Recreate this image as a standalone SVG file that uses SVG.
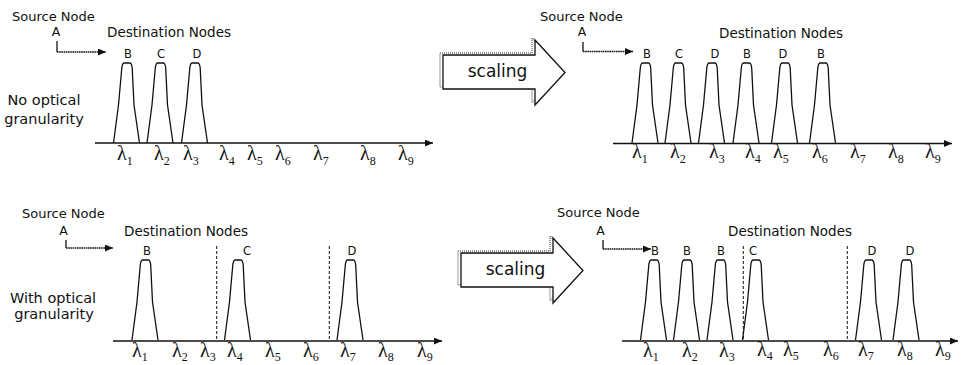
<svg xmlns="http://www.w3.org/2000/svg" width="966" height="365" viewBox="0 0 966 365">
<style>
.lbl{font-family:"DejaVu Sans","Liberation Sans",sans-serif;fill:#111}
.src{font-size:13px}
.dst{font-size:13.5px}
.side{font-size:14.5px;text-anchor:middle}
.pk{font-size:11.5px;text-anchor:middle}
.a{font-size:12.5px;text-anchor:middle}
.scl{font-size:17px;text-anchor:middle}
.lam{font-family:"Liberation Serif","DejaVu Serif",serif;font-size:20px;fill:#111}
.sub{font-size:12px}
.axis{stroke:#111;stroke-width:1.4;fill:none}
.peak{stroke:#111;stroke-width:1.3;fill:none;stroke-linejoin:round}
.larrow{stroke:#111;stroke-width:1.3;fill:none}
.ldot{stroke-dasharray:1.6 0.6}
.guide{stroke:#111;stroke-width:1;stroke-dasharray:3 2;fill:none}
.big{fill:#fff;stroke:#111;stroke-width:1.3}
.shadow{fill:none;stroke:#999;stroke-width:2;stroke-dasharray:1 1}
</style>
<defs>
<marker id="ah" markerUnits="userSpaceOnUse" markerWidth="9" markerHeight="8" refX="8" refY="3.5" orient="auto">
<path d="M0,0 L8,3.5 L0,7 z" fill="#111"/>
</marker>
<path id="peak" class="peak" d="M-13.5,80 L-8.5,42 L-5.2,5 Q-4.7,0 -2.7,0 L2.7,0 Q4.7,0 5.2,5 L7,42 L12.5,80"/>
<g id="bigarrow-shape">
<polygon class="shadow" points="440,53 532,53 532,38 562,70.5 532,103 532,87 440,87"/>
<polygon class="big" points="443,55 535,55 535,40 565,72.5 535,105 535,89 443,89"/>
</g>
</defs>

<!-- Panel top-left -->
<g id="tl-source">
<text class="lbl src" x="12" y="20.5">Source Node</text>
<text class="lbl a" x="56" y="35.5">A</text>
</g>
<g id="tl-dest">
<text class="lbl dst" x="107" y="37">Destination Nodes</text>
</g>
<g id="tl-side">
<text class="lbl side" x="44" y="105">No optical</text>
<text class="lbl side" x="44" y="124">granularity</text>
</g>
<g id="tl-peaks">
<use href="#peak" transform="translate(127,63)"/>
<use href="#peak" transform="translate(160.5,63)"/>
<use href="#peak" transform="translate(195,63)"/>
<text class="lbl pk" x="128" y="57.5">B</text>
<text class="lbl pk" x="161" y="57.5">C</text>
<text class="lbl pk" x="197" y="57.5">D</text>
</g>
<g id="tl-lambdas" class="lam">
<text x="117" y="160">λ<tspan class="sub" dy="5">1</tspan></text>
<text x="154" y="160">λ<tspan class="sub" dy="5">2</tspan></text>
<text x="183" y="160">λ<tspan class="sub" dy="5">3</tspan></text>
<text x="219" y="160">λ<tspan class="sub" dy="5">4</tspan></text>
<text x="247" y="160">λ<tspan class="sub" dy="5">5</tspan></text>
<text x="275" y="160">λ<tspan class="sub" dy="5">6</tspan></text>
<text x="313" y="160">λ<tspan class="sub" dy="5">7</tspan></text>
<text x="360" y="160">λ<tspan class="sub" dy="5">8</tspan></text>
<text x="398" y="160">λ<tspan class="sub" dy="5">9</tspan></text>
</g>

<!-- Scaling arrows -->
<g id="scaling-top">
<use href="#bigarrow-shape"/>
<text class="lbl scl" x="497.5" y="77">scaling</text>
</g>
<g id="scaling-bottom">
<use href="#bigarrow-shape" transform="translate(18,198)"/>
<text class="lbl scl" x="515.5" y="275">scaling</text>
</g>

<!-- Panel top-right -->
<g id="tr-source">
<text class="lbl src" x="540" y="20.5">Source Node</text>
<text class="lbl a" x="582" y="35.5">A</text>
</g>
<g id="tr-dest">
<text class="lbl dst" x="719" y="38">Destination Nodes</text>
</g>
<g id="tr-peaks">
<use href="#peak" transform="translate(645.5,63)"/>
<use href="#peak" transform="translate(678.5,63)"/>
<use href="#peak" transform="translate(712,63)"/>
<use href="#peak" transform="translate(746.5,63)"/>
<use href="#peak" transform="translate(785,63)"/>
<use href="#peak" transform="translate(823,63)"/>
<text class="lbl pk" x="647" y="57.5">B</text>
<text class="lbl pk" x="679" y="57.5">C</text>
<text class="lbl pk" x="715" y="57.5">D</text>
<text class="lbl pk" x="747" y="57.5">B</text>
<text class="lbl pk" x="783" y="57.5">D</text>
<text class="lbl pk" x="821" y="57.5">B</text>
</g>
<g id="tr-lambdas" class="lam">
<text x="632" y="157.5">λ<tspan class="sub" dy="5">1</tspan></text>
<text x="670" y="157.5">λ<tspan class="sub" dy="5">2</tspan></text>
<text x="709" y="157.5">λ<tspan class="sub" dy="5">3</tspan></text>
<text x="745" y="157.5">λ<tspan class="sub" dy="5">4</tspan></text>
<text x="773" y="157.5">λ<tspan class="sub" dy="5">5</tspan></text>
<text x="812" y="157.5">λ<tspan class="sub" dy="5">6</tspan></text>
<text x="850" y="157.5">λ<tspan class="sub" dy="5">7</tspan></text>
<text x="888" y="157.5">λ<tspan class="sub" dy="5">8</tspan></text>
<text x="925" y="157.5">λ<tspan class="sub" dy="5">9</tspan></text>
</g>

<!-- Panel bottom-left -->
<g id="bl-source">
<text class="lbl src" x="22" y="218">Source Node</text>
<text class="lbl a" x="63.5" y="234.5">A</text>
</g>
<g id="bl-dest">
<text class="lbl dst" x="124" y="236">Destination Nodes</text>
</g>
<g id="bl-side">
<text class="lbl side" x="53" y="303">With optical</text>
<text class="lbl side" x="54" y="319">granularity</text>
</g>
<g id="bl-peaks">
<use href="#peak" transform="translate(145.5,260)"/>
<use href="#peak" transform="translate(238,260)"/>
<use href="#peak" transform="translate(350.5,260)"/>
<text class="lbl pk" x="147" y="255">B</text>
<text class="lbl pk" x="247" y="255">C</text>
<text class="lbl pk" x="352" y="255">D</text>
</g>
<g id="bl-lambdas" class="lam">
<text x="132" y="357">λ<tspan class="sub" dy="4">1</tspan></text>
<text x="172" y="357">λ<tspan class="sub" dy="4">2</tspan></text>
<text x="200" y="357">λ<tspan class="sub" dy="4">3</tspan></text>
<text x="227" y="357">λ<tspan class="sub" dy="4">4</tspan></text>
<text x="265" y="357">λ<tspan class="sub" dy="4">5</tspan></text>
<text x="303" y="357">λ<tspan class="sub" dy="4">6</tspan></text>
<text x="340" y="357">λ<tspan class="sub" dy="4">7</tspan></text>
<text x="378" y="357">λ<tspan class="sub" dy="4">8</tspan></text>
<text x="417" y="357">λ<tspan class="sub" dy="4">9</tspan></text>
</g>

<!-- Panel bottom-right -->
<g id="br-source">
<text class="lbl src" x="557" y="217">Source Node</text>
<text class="lbl a" x="600.5" y="234.5">A</text>
</g>
<g id="br-dest">
<text class="lbl dst" x="728" y="236">Destination Nodes</text>
</g>
<g id="br-peaks">
<use href="#peak" transform="translate(654,260)"/>
<use href="#peak" transform="translate(687,260)"/>
<use href="#peak" transform="translate(720.5,260)"/>
<use href="#peak" transform="translate(756,260)"/>
<use href="#peak" transform="translate(869,260)"/>
<use href="#peak" transform="translate(906.5,260)"/>
<text class="lbl pk" x="655" y="255">B</text>
<text class="lbl pk" x="687" y="255">B</text>
<text class="lbl pk" x="721" y="255">B</text>
<text class="lbl pk" x="753" y="255">C</text>
<text class="lbl pk" x="872" y="255">D</text>
<text class="lbl pk" x="910" y="255">D</text>
</g>
<g id="br-lambdas" class="lam">
<text x="643" y="357">λ<tspan class="sub" dy="4">1</tspan></text>
<text x="682" y="357">λ<tspan class="sub" dy="4">2</tspan></text>
<text x="719" y="357">λ<tspan class="sub" dy="4">3</tspan></text>
<text x="757" y="356">λ<tspan class="sub" dy="4">4</tspan></text>
<text x="783" y="356">λ<tspan class="sub" dy="4">5</tspan></text>
<text x="823" y="356">λ<tspan class="sub" dy="4">6</tspan></text>
<text x="858" y="356">λ<tspan class="sub" dy="4">7</tspan></text>
<text x="897" y="356">λ<tspan class="sub" dy="4">8</tspan></text>
<text x="935" y="356">λ<tspan class="sub" dy="4">9</tspan></text>
</g>

<!-- Connectors -->
<g id="connectors">
<path class="larrow" d="M57,41 V52"/>
<path class="larrow ldot" d="M57,52 H106" marker-end="url(#ah)"/>
<path class="larrow" d="M583,42 V51.5"/>
<path class="larrow ldot" d="M583,51.5 H633" marker-end="url(#ah)"/>
<path class="larrow" d="M66,240 V248"/>
<path class="larrow ldot" d="M66,248 H113" marker-end="url(#ah)"/>
<path class="larrow" d="M603,240 V249"/>
<path class="larrow ldot" d="M603,249 H651" marker-end="url(#ah)"/>
<path class="axis" d="M95,143 H433" marker-end="url(#ah)"/>
<path class="axis" d="M613,143.5 H952" marker-end="url(#ah)"/>
<path class="axis" d="M113,341 H442" marker-end="url(#ah)"/>
<path class="axis" d="M622,341 H958" marker-end="url(#ah)"/>
<path class="guide" d="M216.7,246 V341"/>
<path class="guide" d="M329.3,246 V341"/>
<path class="guide" d="M743.3,246 V341"/>
<path class="guide" d="M847.3,246 V341"/>
</g>
</svg>
